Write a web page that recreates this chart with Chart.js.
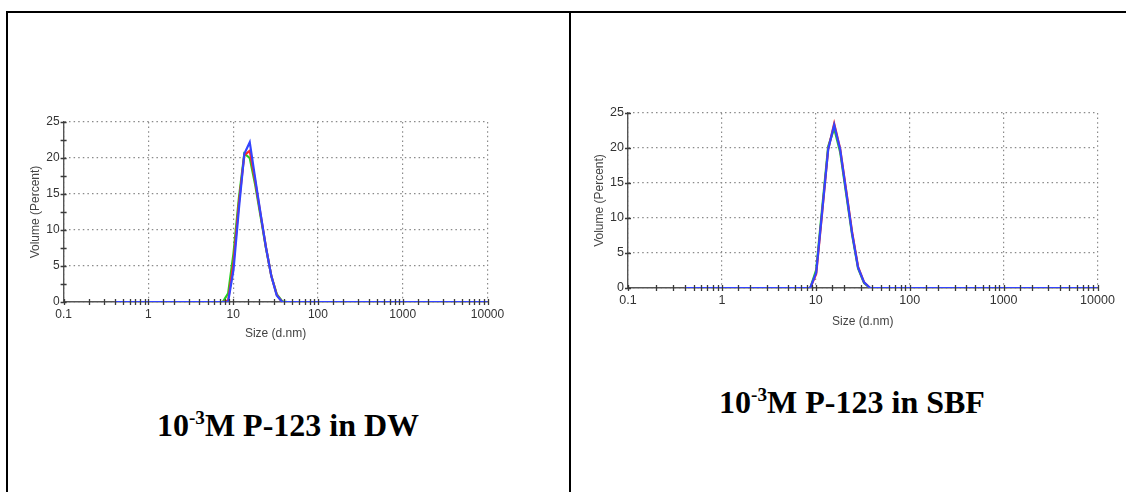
<!DOCTYPE html>
<html>
<head>
<meta charset="utf-8">
<script src="https://cdn.jsdelivr.net/npm/chart.js@4/dist/chart.umd.min.js"></script>
<style>
  html, body { margin: 0; padding: 0; background: #fff; width: 1126px; height: 492px; overflow: hidden; position: relative; }
  .line { position: absolute; background: #000; }
  .wrap { position: absolute; }
  .cap { position: absolute; font-family: "Liberation Serif", "Times New Roman", serif; font-weight: bold; font-size: 32px; line-height: 32px; color: #000; white-space: nowrap; transform: translateX(-50%); }
  .cap .sup { font-size: 0.6em; position: relative; top: -0.6em; }
</style>
</head>
<body>
<div class="line" style="left:6px; top:11px; width:1120px; height:2px;"></div>
<div class="line" style="left:6px; top:11px; width:2px; height:481px;"></div>
<div class="line" style="left:569px; top:11px; width:2px; height:481px;"></div>

<div class="wrap" style="left:0px; top:90px; width:560px; height:280px;"><canvas id="c1"></canvas></div>
<div class="wrap" style="left:570px; top:80px; width:556px; height:280px;"><canvas id="c2"></canvas></div>

<div class="cap" style="left:288px; top:409px;">10<span class="sup">-3</span>M P-123 in DW</div>
<div class="cap" style="left:852px; top:386px;">10<span class="sup">-3</span>M P-123 in SBF</div>

<script>
// ---- data ----
const SIZES = [0.4, 7.531, 8.721, 10.10, 11.70, 13.54, 15.69, 18.17, 21.04, 24.36, 28.21, 32.67, 37.84, 43.82, 10000];

const DW_BLUE  = [0, 0, 0,   4.5, 13.0, 20.6, 22.2, 17.2, 12.3, 7.6, 3.6, 0.9, 0,   0, 0];
const DW_RED   = [0, 0, 0.2, 5.5, 13.8, 20.4, 21.0, 16.8, 12.2, 7.6, 3.6, 1.0, 0,   0, 0];
const DW_GREEN = [0, 0, 1.2, 6.8, 14.5, 20.6, 20.0, 16.3, 11.9, 7.5, 3.6, 1.1, 0.1, 0, 0];

const SBF_BLUE  = [0, 0, 0, 2.2, 11.0, 19.8, 23.3, 19.8, 13.8, 7.8, 2.9, 0.8, 0, 0, 0];
const SBF_RED   = [0, 0, 0, 2.0, 10.8, 19.8, 23.5, 19.9, 14.0, 8.0, 3.0, 0.8, 0, 0, 0];
const SBF_GREEN = [0, 0, 0, 2.6, 11.5, 20.2, 22.8, 19.4, 13.5, 7.6, 2.8, 0.7, 0, 0, 0];

const X_MIN = 0.1, X_MAX = 10000;
const Y_MIN = 0, Y_MAX = 25, Y_STEP = 2.5, Y_LABEL_STEP = 5;
const X_TITLE = 'Size (d.nm)';
const Y_TITLE = 'Volume (Percent)';
const SERIES_NAMES = ['Record 3', 'Record 2', 'Record 1'];
const SERIES_COLORS = ['#3344ff', '#ff2a2a', '#22d022'];

function toPts(vals) { return SIZES.map((s, i) => ({ x: s, y: vals[i] })); }
function isDecade(v) { const l = Math.log10(v); return Math.abs(l - Math.round(l)) < 1e-6; }

const crossTicks = {
  id: 'crossTicks',
  afterDatasetsDraw(chart) {
    const { ctx, chartArea: a, scales: { x, y } } = chart;
    ctx.save();
    ctx.strokeStyle = '#3a3a3a';
    ctx.lineWidth = 1.3;
    ctx.beginPath();
    x.ticks.forEach(t => {
      const px = Math.round(x.getPixelForValue(t.value)) + 0.5;
      ctx.moveTo(px, a.bottom - 3); ctx.lineTo(px, a.bottom + 3);
    });
    y.ticks.forEach(t => {
      const py = Math.round(y.getPixelForValue(t.value)) + 0.5;
      ctx.moveTo(a.left - 3, py); ctx.lineTo(a.left + 3, py);
    });
    ctx.stroke();
    ctx.restore();
  }
};

function makeChart(id, series, g) {
  const narrow = '"Liberation Sans Narrow", "Arial Narrow", Arial, sans-serif';
  const tickFont = { family: narrow, size: g.fs };
  return new Chart(document.getElementById(id), {
    type: 'line',
    data: {
      datasets: series.map((vals, i) => ({
        label: SERIES_NAMES[i],
        data: toPts(vals),
        borderColor: SERIES_COLORS[i],
        borderWidth: 2.2,
        pointRadius: 0,
        tension: 0,
        fill: false
      }))
    },
    options: {
      responsive: true,
      maintainAspectRatio: false,
      animation: false,
      events: [],
      layout: { padding: { left: g.pl, right: g.pr, top: g.pt, bottom: g.pb } },
      plugins: { legend: { display: false }, tooltip: { enabled: false } },
      scales: {
        x: {
          type: 'logarithmic',
          min: X_MIN, max: X_MAX,
          afterFit: s => { s.height = g.xh; },
          title: { display: true, text: X_TITLE, color: '#444', font: { family: narrow, size: 12 }, padding: { top: 0, bottom: g.xtp } },
          ticks: {
            autoSkip: false, maxRotation: 0, minRotation: 0, padding: 2,
            color: '#333', font: tickFont,
            callback: v => isDecade(v) ? String(Number(v.toPrecision(6))) : ''
          },
          grid: {
            color: c => (c.tick && isDecade(c.tick.value)) ? '#8a8a8a' : 'rgba(0,0,0,0)',
            lineWidth: 1.2, tickLength: 3, tickColor: 'rgba(0,0,0,0)'
          },
          border: { display: true, color: '#555', width: 1.6, dash: [1.5, 3.1] }
        },
        y: {
          type: 'linear',
          min: Y_MIN, max: Y_MAX,
          afterFit: s => { s.width = g.yw; },
          title: { display: true, text: Y_TITLE, color: '#444', font: { family: 'Arial, "Liberation Sans", sans-serif', size: 12 }, padding: { top: g.ytp, bottom: 0 } },
          ticks: {
            stepSize: Y_STEP, padding: 1, color: '#333', font: tickFont,
            callback: v => (Math.abs(v % Y_LABEL_STEP) < 1e-9) ? String(v) : ''
          },
          grid: {
            color: c => (c.tick && Math.abs(c.tick.value % Y_LABEL_STEP) < 1e-9) ? '#8a8a8a' : 'rgba(0,0,0,0)',
            lineWidth: 1.2, tickLength: 3, tickColor: 'rgba(0,0,0,0)'
          },
          border: { display: true, color: '#555', width: 1.4, dash: [1.5, 3.1] }
        }
      }
    },
    plugins: [crossTicks]
  });
}

// canvas 1: 560x280 at page (0,90); area L=63.6 R=487.5 T=32 B=212
makeChart('c1', [DW_BLUE, DW_RED, DW_GREEN], { pl: 20, pr: 72.5, pt: 32, pb: 23, yw: 43.6, xh: 45, ytp: 8.8, xtp: 5.8, fs: 12 });
// canvas 2: 556x280 at page (570,80); area L=58 R=527.5 T=33 B=208
makeChart('c2', [SBF_BLUE, SBF_RED, SBF_GREEN], { pl: 15, pr: 28.5, pt: 33, pb: 27, yw: 43, xh: 45, ytp: 7.3, xtp: 3.8, fs: 12.5 });
</script>
</body>
</html>
